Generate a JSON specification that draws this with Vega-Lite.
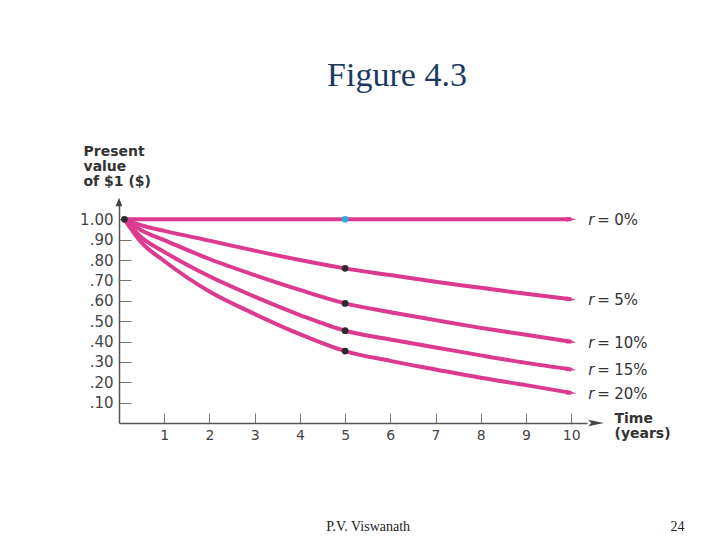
{
  "$schema": "https://vega.github.io/schema/vega-lite/v6.json",
  "width": 468,
  "height": 218,
  "autosize": "none",
  "padding": {"left": 119, "top": 205, "right": 133, "bottom": 117},
  "background": "white",
  "config": {"view": {"stroke": null}},
  "title": {
    "text": "Figure 4.3",
    "font": "Liberation Serif",
    "fontSize": 34,
    "fontWeight": "normal",
    "color": "#1a3a64",
    "anchor": "middle",
    "baseline": "alphabetic",
    "dx": 44,
    "offset": 24
  },
  "datasets": {
    "pv": [
      {"t": 0.12, "r": "0%", "v": 1.0}, {"t": 0.5, "r": "0%", "v": 1.0}, {"t": 1, "r": "0%", "v": 1.0},
      {"t": 2, "r": "0%", "v": 1.0}, {"t": 3, "r": "0%", "v": 1.0}, {"t": 4, "r": "0%", "v": 1.0},
      {"t": 5, "r": "0%", "v": 1.0}, {"t": 6, "r": "0%", "v": 1.0}, {"t": 7, "r": "0%", "v": 1.0},
      {"t": 8, "r": "0%", "v": 1.0}, {"t": 9, "r": "0%", "v": 1.0}, {"t": 10, "r": "0%", "v": 1.0},
      {"t": 0.12, "r": "5%", "v": 1.0}, {"t": 0.5, "r": "5%", "v": 0.97}, {"t": 1, "r": "5%", "v": 0.943},
      {"t": 2, "r": "5%", "v": 0.895}, {"t": 3, "r": "5%", "v": 0.846}, {"t": 4, "r": "5%", "v": 0.8},
      {"t": 5, "r": "5%", "v": 0.759}, {"t": 6, "r": "5%", "v": 0.726}, {"t": 7, "r": "5%", "v": 0.693},
      {"t": 8, "r": "5%", "v": 0.664}, {"t": 9, "r": "5%", "v": 0.634}, {"t": 10, "r": "5%", "v": 0.607},
      {"t": 0.12, "r": "10%", "v": 1.0}, {"t": 0.5, "r": "10%", "v": 0.945}, {"t": 1, "r": "10%", "v": 0.898},
      {"t": 2, "r": "10%", "v": 0.805}, {"t": 3, "r": "10%", "v": 0.726}, {"t": 4, "r": "10%", "v": 0.653},
      {"t": 5, "r": "10%", "v": 0.587}, {"t": 6, "r": "10%", "v": 0.544}, {"t": 7, "r": "10%", "v": 0.505},
      {"t": 8, "r": "10%", "v": 0.467}, {"t": 9, "r": "10%", "v": 0.433}, {"t": 10, "r": "10%", "v": 0.399},
      {"t": 0.12, "r": "15%", "v": 1.0}, {"t": 0.5, "r": "15%", "v": 0.91}, {"t": 1, "r": "15%", "v": 0.84},
      {"t": 2, "r": "15%", "v": 0.72}, {"t": 3, "r": "15%", "v": 0.62}, {"t": 4, "r": "15%", "v": 0.53},
      {"t": 5, "r": "15%", "v": 0.453}, {"t": 6, "r": "15%", "v": 0.41}, {"t": 7, "r": "15%", "v": 0.371},
      {"t": 8, "r": "15%", "v": 0.332}, {"t": 9, "r": "15%", "v": 0.295}, {"t": 10, "r": "15%", "v": 0.263},
      {"t": 0.12, "r": "20%", "v": 1.0}, {"t": 0.5, "r": "20%", "v": 0.885}, {"t": 1, "r": "20%", "v": 0.795},
      {"t": 2, "r": "20%", "v": 0.645}, {"t": 3, "r": "20%", "v": 0.535}, {"t": 4, "r": "20%", "v": 0.436},
      {"t": 5, "r": "20%", "v": 0.353}, {"t": 6, "r": "20%", "v": 0.305}, {"t": 7, "r": "20%", "v": 0.263},
      {"t": 8, "r": "20%", "v": 0.222}, {"t": 9, "r": "20%", "v": 0.186}, {"t": 10, "r": "20%", "v": 0.148}
    ]
  },
  "layer": [
    {
      "data": {"name": "pv"},
      "mark": {"type": "line", "color": "#dc3a8e", "strokeWidth": 4, "interpolate": "monotone"},
      "encoding": {
        "x": {
          "field": "t",
          "type": "quantitative",
          "scale": {"domain": [0, 10.35], "nice": false, "zero": false},
          "axis": {
            "values": [1, 2, 3, 4, 5, 6, 7, 8, 9, 10],
            "tickCount": 12,
            "labelOverlap": false,
            "grid": false,
            "domainColor": "#555",
            "domainWidth": 1.5,
            "tickColor": "#777",
            "tickSize": -10,
            "labelPadding": 15,
            "labelFont": "DejaVu Sans",
            "labelFontSize": 14,
            "labelColor": "#444",
            "title": ["Time", "(years)"],
            "titleFont": "DejaVu Sans",
            "titleFontSize": 14,
            "titleFontWeight": "bold",
            "titleColor": "#333",
            "titleAngle": 0,
            "titleAlign": "left",
            "titleBaseline": "top",
            "titleLineHeight": 15,
            "titleX": 495,
            "titleY": -12
          }
        },
        "y": {
          "field": "v",
          "type": "quantitative",
          "scale": {"domain": [0, 1.07], "nice": false},
          "axis": {
            "values": [0.1, 0.2, 0.3, 0.4, 0.5, 0.6, 0.7, 0.8, 0.9, 1.0],
            "tickCount": 12,
            "labelExpr": "datum.value >= 1 ? '1.00' : slice(format(datum.value, '.2f'), 1)",
            "labelOverlap": false,
            "grid": false,
            "domainColor": "#555",
            "domainWidth": 1.5,
            "tickColor": "#777",
            "tickSize": -12,
            "labelPadding": 18,
            "labelFont": "DejaVu Sans",
            "labelFontSize": 15,
            "labelColor": "#444",
            "title": ["Present", "value", "of $1 ($)"],
            "titleFont": "DejaVu Sans",
            "titleFontSize": 14,
            "titleFontWeight": "bold",
            "titleColor": "#333",
            "titleAngle": 0,
            "titleAlign": "left",
            "titleBaseline": "top",
            "titleLineHeight": 15,
            "titleX": -36,
            "titleY": -61
          }
        },
        "detail": {"field": "r"}
      }
    },
    {
      "data": {"name": "pv"},
      "transform": [{"filter": "datum.t === 10"}],
      "mark": {"type": "point", "shape": "M1,0L-1,-0.5L-1,0.5Z", "filled": true, "opacity": 1, "size": 100, "color": "#dc3a8e"},
      "encoding": {
        "x": {"field": "t", "type": "quantitative"},
        "y": {"field": "v", "type": "quantitative"},
        "angle": {"condition": {"test": "datum.r === '0%'", "value": 0}, "value": 8}
      }
    },
    {
      "data": {"name": "pv"},
      "transform": [{"filter": "datum.t === 5 || (datum.t < 0.2 && datum.r === '0%')"}],
      "mark": {"type": "point", "shape": "circle", "filled": true, "opacity": 1, "size": 45},
      "encoding": {
        "x": {"field": "t", "type": "quantitative"},
        "y": {"field": "v", "type": "quantitative"},
        "color": {"condition": {"test": "datum.t === 5 && datum.r === '0%'", "value": "#29abe2"}, "value": "#2b2b2b"}
      }
    },
    {
      "data": {"name": "pv"},
      "transform": [{"filter": "datum.t === 10"}],
      "mark": {"type": "text", "text": "r", "font": "DejaVu Sans", "fontStyle": "italic", "fontSize": 15, "color": "#333", "align": "left", "baseline": "middle", "dx": 17, "dy": 1},
      "encoding": {
        "x": {"field": "t", "type": "quantitative"},
        "y": {"field": "v", "type": "quantitative"}
      }
    },
    {
      "data": {"name": "pv"},
      "transform": [{"filter": "datum.t === 10"}],
      "mark": {"type": "text", "text": "=", "font": "DejaVu Sans", "fontSize": 15, "color": "#333", "align": "left", "baseline": "middle", "dx": 26, "dy": 1},
      "encoding": {
        "x": {"field": "t", "type": "quantitative"},
        "y": {"field": "v", "type": "quantitative"}
      }
    },
    {
      "data": {"name": "pv"},
      "transform": [{"filter": "datum.t === 10"}],
      "mark": {"type": "text", "font": "DejaVu Sans", "fontSize": 15, "color": "#333", "align": "left", "baseline": "middle", "dx": 43, "dy": 1},
      "encoding": {
        "x": {"field": "t", "type": "quantitative"},
        "y": {"field": "v", "type": "quantitative"},
        "text": {"field": "r"}
      }
    },
    {
      "data": {"values": [{}]},
      "mark": {"type": "point", "shape": "M0,-1L0.8,1L-0.8,1Z", "filled": true, "opacity": 1, "size": 70, "color": "#444"},
      "encoding": {
        "x": {"datum": 0},
        "y": {"datum": 1.085}
      }
    },
    {
      "data": {"values": [{}]},
      "mark": {"type": "point", "shape": "M1,0L-1,-0.4L-0.6,0L-1,0.4Z", "filled": true, "opacity": 1, "size": 250, "color": "#444"},
      "encoding": {
        "x": {"datum": 10.55},
        "y": {"datum": 0}
      }
    },
    {
      "data": {"values": [{}]},
      "mark": {"type": "text", "text": "P.V. Viswanath", "font": "Liberation Serif", "fontSize": 14, "color": "#222", "align": "center", "baseline": "middle"},
      "encoding": {
        "x": {"datum": 5.51},
        "y": {"datum": -0.512}
      }
    },
    {
      "data": {"values": [{}]},
      "mark": {"type": "text", "text": "24", "font": "Liberation Serif", "fontSize": 14, "color": "#222", "align": "center", "baseline": "middle"},
      "encoding": {
        "x": {"datum": 12.35},
        "y": {"datum": -0.512}
      }
    }
  ]
}
